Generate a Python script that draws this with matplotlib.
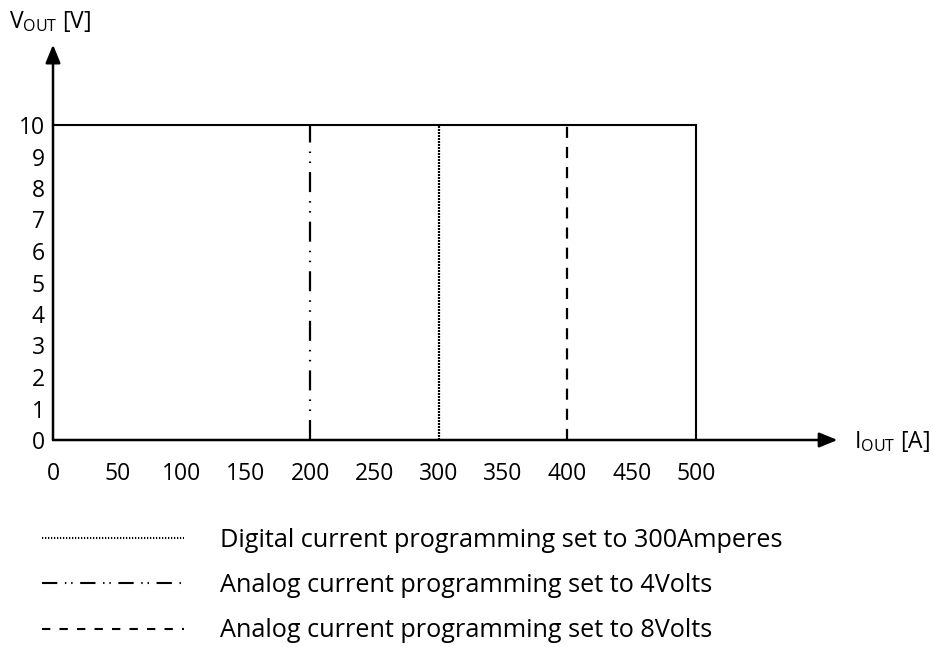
import matplotlib
matplotlib.use("Agg")
import matplotlib.pyplot as plt
from matplotlib.lines import Line2D

plt.rcParams['font.family'] = ['Open Sans', 'DejaVu Sans']
plt.rcParams['mathtext.fontset'] = 'custom'
plt.rcParams['mathtext.rm'] = 'Open Sans'
plt.rcParams['lines.scale_dashes'] = False

# output characteristic: constant-voltage limit and current-limit settings
v_max = 10
i_max = 500
x_ticks = [0, 50, 100, 150, 200, 250, 300, 350, 400, 450, 500]
y_ticks = [0, 1, 2, 3, 4, 5, 6, 7, 8, 9, 10]
limit_currents = [300, 200, 400]
limit_labels = ['Digital current programming set to 300Amperes',
                'Analog current programming set to 4Volts',
                'Analog current programming set to 8Volts']

# dash patterns in points
styles = [(0, (1.44, 0.72)),
          (0, (14.4, 6.5, 1.1, 6.1, 1.1, 6.5)),
          (0, (8.0, 6.5))]
legend_styles = [(0, (0.9, 1.26)),
                 (0, (11.0, 5.5, 1.0, 3.5, 1.0, 5.5)),
                 (0, (6.0, 6.6))]

FS = 16.5

fig = plt.figure(figsize=(9.33, 6.47), dpi=100)
ax = fig.add_axes([53 / 933, 207 / 647, 643 / 933, 315 / 647])
ax.set_xlim(0, 500)
ax.set_ylim(0, 10)
for s in ax.spines.values():
    s.set_visible(False)

# V-I boundary
ax.plot([0, i_max], [v_max, v_max], color='black', lw=1.5, clip_on=False)
ax.plot([i_max, i_max], [0, v_max], color='black', lw=1.5, clip_on=False)

# current limit settings
for cur, ls in zip(limit_currents, styles):
    ax.plot([cur, cur], [0, v_max], color='black', lw=1.6, linestyle=ls,
            dash_capstyle='butt', clip_on=False)

# axes with arrow heads
arrow = dict(arrowstyle='-|>,head_length=1.1,head_width=0.45', color='black',
             lw=1.8, shrinkA=0, shrinkB=0)
ax.annotate('', xy=(610, 0), xytext=(0, 0), arrowprops=arrow,
            annotation_clip=False)
ax.annotate('', xy=(0, 12.55), xytext=(0, 0), arrowprops=arrow,
            annotation_clip=False)

ax.set_xticks(x_ticks)
ax.set_yticks(y_ticks)
ax.tick_params(axis='both', length=0, labelsize=FS)
ax.tick_params(axis='x', pad=16)
ax.tick_params(axis='y', pad=6)

fig.text(9 / 933, 1 - 22 / 647, r'V$_{\mathregular{OUT}}$ [V]', fontsize=FS,
         ha='left', va='center')
fig.text(854 / 933, 1 - 442 / 647, r'I$_{\mathregular{OUT}}$ [A]',
         fontsize=FS, ha='left', va='center')

handles = [Line2D([], [], color='black', lw=1.5, linestyle=ls,
                  dash_capstyle='butt') for ls in legend_styles]
fig.legend(handles, limit_labels, loc='upper left',
           bbox_to_anchor=(42 / 933, 1 - 528 / 647), frameon=False,
           fontsize=18.2, handlelength=5.6, handletextpad=1.45,
           labelspacing=0.8, borderpad=0, borderaxespad=0)

fig.savefig('out.png', dpi=100)
